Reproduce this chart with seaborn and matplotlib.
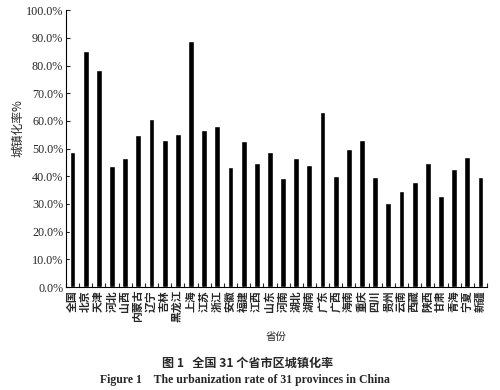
import matplotlib
matplotlib.use("Agg")
import matplotlib.pyplot as plt
import seaborn as sns
import pandas as pd
import numpy as np
from matplotlib.ticker import PercentFormatter, FixedLocator

provinces = ["全国", "北京", "天津", "河北", "山西", "内蒙古", "辽宁", "吉林", "黑龙江", "上海",
             "江苏", "浙江", "安徽", "福建", "江西", "山东", "河南", "湖北", "湖南", "广东",
             "广西", "海南", "重庆", "四川", "贵州", "云南", "西藏", "陕西", "甘肃", "青海",
             "宁夏", "新疆"]
rates = [48.7, 85.2, 78.3, 43.7, 46.6, 54.9, 60.6, 53.1, 55.2, 88.8,
         56.7, 58.1, 43.3, 52.7, 44.8, 48.7, 39.4, 46.6, 44.0, 63.2,
         40.1, 49.8, 53.1, 39.7, 30.3, 34.7, 37.9, 44.8, 32.9, 42.6,
         46.9, 39.7]
y_ticks = [0, 10, 20, 30, 40, 50, 60, 70, 80, 90, 100]

sns.set_theme(style="white")
plt.rcParams['font.family'] = ['Liberation Serif', 'Noto Sans CJK SC', 'DejaVu Sans']

df = pd.DataFrame({"省份": provinces, "rate": rates})

fig = plt.figure(figsize=(5, 3.9), dpi=100)
ax = fig.add_axes([0.132, 0.264, 0.842, 0.71])
sns.barplot(data=df, x="省份", y="rate", color="black", width=0.44,
            saturation=1, ax=ax)

ax.set_ylim(0, 100)
ax.set_xlim(-0.5, len(provinces) - 0.5)
ax.yaxis.set_major_locator(FixedLocator(y_ticks))
ax.yaxis.set_major_formatter(PercentFormatter(decimals=1))
ax.tick_params(axis='y', direction='in', length=3, width=0.8, labelsize=8.7, pad=2, left=True)
for lbl in ax.get_yticklabels():
    lbl.set_family(['Liberation Serif'])

ax.set_xticks(range(len(provinces)))
ax.set_xticklabels(provinces, family=['Noto Sans CJK SC'], fontsize=7.8,
                   fontweight='bold', rotation=90, ha='center', va='top')
ax.tick_params(axis='x', length=0, pad=2)
ax.set_xticks(np.arange(-0.5, len(provinces), 1), minor=True)
ax.tick_params(axis='x', which='minor', direction='in', length=3, width=0.8, bottom=True)

for s in ["top", "right"]:
    ax.spines[s].set_visible(False)
for s in ["left", "bottom"]:
    ax.spines[s].set_color("black")
    ax.spines[s].set_linewidth(0.8)

ax.set_xlabel("")
ax.set_ylabel("城镇化率%", family=['Noto Sans CJK SC'], fontsize=8.5, va='center')
ax.yaxis.set_label_coords(-0.114, 0.574)

fig.text(0.553, 0.136, "省份", family=['Noto Sans CJK SC'], fontsize=7.5, ha='center', va='center')
fig.text(0.495, 0.069, "图 1   全国 31 个省市区城镇化率", family=['Noto Sans CJK SC'],
         fontsize=8.7, fontweight='bold', ha='center', va='center')
fig.text(0.49, 0.026, "Figure 1    The urbanization rate of 31 provinces in China",
         family=['Liberation Serif'], fontsize=8.5, fontweight='bold', ha='center', va='center')

fig.savefig("out.png", dpi=100, facecolor="white")
